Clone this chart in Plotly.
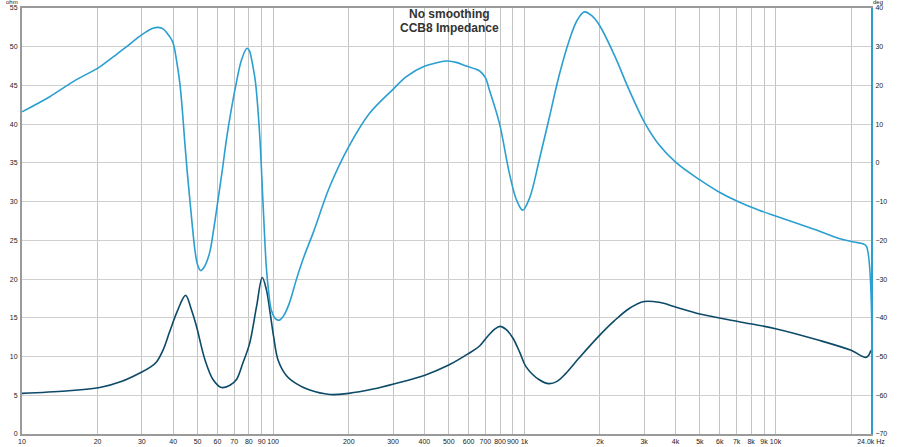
import plotly.graph_objects as go

# Impedance magnitude (ohm) vs frequency (Hz)
imp_freq = [10, 15, 20.4, 25, 30, 32.3, 34.3, 36.5, 38.7, 41.7, 44.8, 47.3, 49.5, 53.5, 57.7,
            62.2, 67.3, 71.3, 75.8, 80.6, 85.8, 90.5, 94.0, 96.9, 100.5, 104.5, 112.6, 123.6,
            139, 168, 200, 250, 302, 402, 500, 600, 660, 705, 760, 800, 845, 900, 960, 1015,
            1147, 1254, 1350, 1460, 1650, 1988, 2280, 2616, 3000, 3444, 4000, 5000, 7159,
            10000, 14900, 20000, 23000, 24000]
imp_ohm = [5.25, 5.55, 6.0, 6.8, 8.0, 8.6, 9.3, 10.9, 13.2, 16.0, 17.9, 16.0, 13.9, 9.6, 7.0,
           6.0, 6.3, 7.0, 9.2, 11.7, 16.4, 20.2, 18.6, 16.0, 12.5, 9.6, 7.6, 6.5,
           5.7, 5.1, 5.25, 5.8, 6.45, 7.6, 8.9, 10.4, 11.3, 12.4, 13.5, 13.9, 13.5, 12.4, 10.5,
           8.7, 7.0, 6.5, 6.8, 7.8, 9.8, 12.7, 14.6, 16.2, 17.1, 17.0, 16.4, 15.5, 14.5,
           13.6, 12.1, 10.8, 9.9, 10.8]

# Impedance phase (deg) vs frequency (Hz)
ph_freq = [10, 12.9, 16, 20.4, 23, 26.1, 29, 31.3, 33, 34.8, 36.5, 38, 39, 40, 41.2, 42.5,
           43.5, 44.5, 45.5, 46.6, 47.7, 48.8, 50, 51.4, 53, 55.8, 58, 60.3, 62.7, 65.1, 68,
           71.3, 74.8, 78.7, 80.5, 81.7, 83.3, 85.1, 88.3, 91.0, 93.9, 96, 98.3, 102, 106, 110,
           116, 123.6, 133, 144, 168, 200, 242, 300, 339, 402, 450, 496, 540, 587, 662, 700,
           726, 796, 872, 930, 985, 1050, 1147, 1256, 1377, 1510, 1625, 1733, 1864, 1988,
           2280, 2616, 3000, 3444, 4000, 5000, 5955, 7159, 8600, 10000, 12400, 14900, 17900,
           20500, 22300, 23000, 24000]
ph_deg = [13.2, 17.1, 21.0, 24.8, 27.3, 30.0, 32.4, 33.9, 34.7, 35.0, 34.6, 33.3, 32.3, 30.9,
          26.6, 20.6, 13.5, 5.1, -2.5, -9.6, -16.5, -22.5, -26.3, -27.8, -27.0, -23.3, -17.0,
          -9.6, -2.0, 5.9, 13.5, 20.6, 26.6, 29.6, 28.9, 27.3, 24.5, 20.6, 7.6, -9.6, -26.8,
          -33.5, -38.0, -40.2, -40.6, -39.5, -36.2, -30.2, -24.0, -18.2, -6.1, 4.2, 12.8, 19.0,
          22.3, 25.0, 25.9, 26.3, 25.9, 25.0, 23.8, 22.0, 18.8, 10.2, -2.7, -9.5, -12.2, -9.0,
          0.8, 11.6, 22.7, 31.7, 36.9, 39.0, 37.9, 35.6, 27.9, 18.8, 10.6, 4.6, 0.2, -4.4,
          -7.5, -10.1, -12.2, -13.7, -15.8, -17.6, -19.5, -20.4, -20.9, -21.5, -95.0]

x_tickvals = [10, 20, 30, 40, 50, 60, 70, 80, 90, 100, 200, 300, 400, 500, 600, 700, 800, 900,
              1000, 2000, 3000, 4000, 5000, 6000, 7000, 8000, 9000, 10000, 20000, 24000]
x_ticktext = ["10", "20", "30", "40", "50", "60", "70", "80", "90", "100", "200", "300", "400",
              "500", "600", "700", "800", "900", "1k", "2k", "3k", "4k", "5k", "6k", "7k", "8k",
              "9k", "10k", "", "24.0k Hz"]
ohm_ticks = [0, 5, 10, 15, 20, 25, 30, 35, 40, 45, 50, 55]
deg_ticks = [-70, -60, -50, -40, -30, -20, -10, 0, 10, 20, 30, 40]

PHASE_COLOR = "#2a9fd0"
IMP_COLOR = "#0c4a68"
FONT = "Liberation Sans, Arial, sans-serif"

fig = go.Figure()
fig.add_trace(go.Scatter(x=ph_freq, y=ph_deg, yaxis="y2", mode="lines",
                         line=dict(color=PHASE_COLOR, width=1.6, shape="spline", smoothing=1.0),
                         showlegend=False))
fig.add_trace(go.Scatter(x=imp_freq, y=imp_ohm, mode="lines",
                         line=dict(color=IMP_COLOR, width=1.6, shape="spline", smoothing=1.0),
                         showlegend=False))

fig.update_layout(
    width=900, height=447,
    margin=dict(l=22, r=29, t=8, b=13, autoexpand=False),
    paper_bgcolor="white", plot_bgcolor="white",
    font=dict(family=FONT, size=7, color="#222222"),
    xaxis=dict(type="log", range=[1, 4.3802], tickvals=x_tickvals, ticktext=x_ticktext,
               tickangle=0, automargin=False,
               showgrid=True, gridcolor="#c4c4c4", gridwidth=1, ticks="",
               showline=True, linecolor="#9a9a9a", linewidth=2, mirror=True,
               zeroline=False, tickfont=dict(size=7), ticklabelstandoff=0),
    yaxis=dict(range=[0, 55], tickvals=ohm_ticks, showgrid=True, gridcolor="#cfcfcf",
               gridwidth=1, ticks="", showline=True, linecolor="#9a9a9a", linewidth=2,
               automargin=False,
               zeroline=False, tickfont=dict(size=7), ticklabelstandoff=1),
    yaxis2=dict(range=[-70, 40], tickvals=deg_ticks, overlaying="y", side="right",
                showgrid=False, ticks="", showline=True, linecolor=PHASE_COLOR, linewidth=2,
                automargin=False,
                zeroline=False, tickfont=dict(size=7), ticklabelstandoff=1),
    annotations=[
        dict(text="<b>No smoothing</b>", x=0.504, y=(434 - 14) / 426, xref="paper",
             yref="paper", showarrow=False, xanchor="center", yanchor="middle",
             font=dict(size=12, color="#333333", family=FONT)),
        dict(text="<b>CCB8 Impedance</b>", x=0.504, y=(434 - 28) / 426, xref="paper",
             yref="paper", showarrow=False, xanchor="center", yanchor="middle",
             font=dict(size=12, color="#333333", family=FONT)),
        dict(text="ohm", x=-0.012, y=1.015, xref="paper", yref="paper", showarrow=False,
             xanchor="center", yanchor="middle", font=dict(size=6, color="#222222")),
        dict(text="deg", x=1.008, y=1.015, xref="paper", yref="paper", showarrow=False,
             xanchor="center", yanchor="middle", font=dict(size=6, color="#222222")),
    ],
)

fig.write_html("out.html", config={"displayModeBar": False},
               post_script="document.body.style.margin='0';document.body.style.overflow='hidden';")
